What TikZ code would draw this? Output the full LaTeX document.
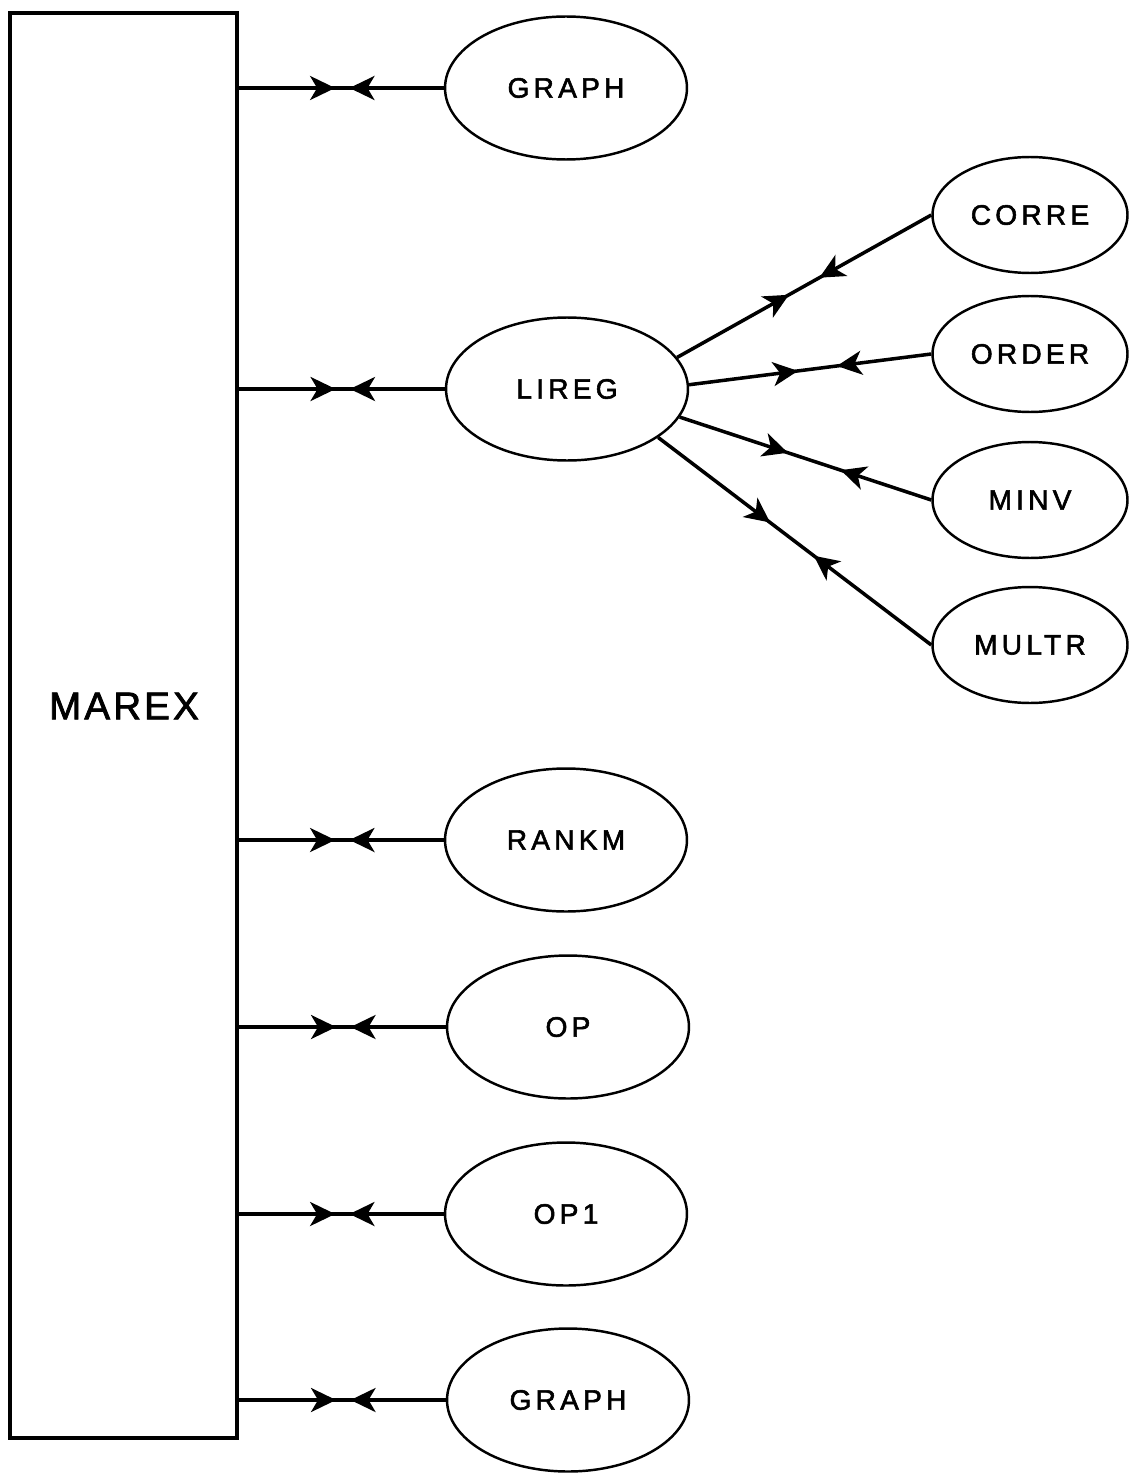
\documentclass[tikz,border=0pt]{standalone}
\usepackage{fontspec}
\setmainfont{Liberation Sans}[LetterSpace=15, FakeBold=2]
\usetikzlibrary{shapes.geometric,arrows.meta,decorations.markings}

\begin{document}
\begin{tikzpicture}[%
      x=0.02cm, y=-0.02cm, %
      >={Stealth[length=5mm, width=4.8mm, inset=1.4mm]}, %
      module/.style={ellipse, draw, line width=1.4pt, inner sep=0pt,
        minimum width=4.84cm, minimum height=2.86cm,
        font=\fontsize{16}{18}\selectfont},
      submodule/.style={module, minimum width=3.9cm, minimum height=2.32cm},
      meet/.style 2 args={line width=2pt, postaction={decorate},
        decoration={markings,
          mark=at position #1 with {\arrow{>}},
          mark=at position #2 with {\arrowreversed{>}}}}
      ]
      \useasboundingbox (0,0) rectangle (1129,1480);

      % Main program
      \node[draw, line width=2pt, inner sep=0pt,
      minimum width=4.54cm, minimum height=28.5cm] (marex) at (123.5,725.5) {};
      \node[font=\fontsize{22}{24}\selectfont\addfontfeature{LetterSpace=8}]
      (marextext) at (124,706) {MAREX};

      % Subroutines called by MAREX
      \node[module] (graphA) at (566,88) {GRAPH};
      \node[module] (lireg) at (567,389) {LIREG};
      \node[module] (rankm) at (566,840) {RANKM};
      \node[module] (op) at (568,1027) {OP};
      \node[module] (opone) at (566,1214) {OP1};
      \node[module] (graphB) at (568,1400) {GRAPH};

      % Subroutines called by LIREG
      \node[submodule] (corre) at (1030,215) {CORRE};
      \node[submodule] (order) at (1030,354) {ORDER};
      \node[submodule] (minv) at (1030,500) {MINV};
      \node[submodule] (multr) at (1030,645) {MULTR};

      \foreach \callee in {graphA, lireg, rankm, op, opone, graphB}{
        \draw[meet={0.47}{0.54}] (marex.east |- \callee.west) -- (\callee.west);
      }

      \draw[meet={0.44}{0.56}] (lireg.16) -- (corre.west);
      \draw[meet={0.45}{0.61}] (lireg.2) -- (order.west);
      \draw[meet={0.43}{0.64}] (lireg.-14) -- (minv.west);
      \draw[meet={0.41}{0.57}] (lireg.-28) -- (multr.west);

    \end{tikzpicture}
\end{document}
